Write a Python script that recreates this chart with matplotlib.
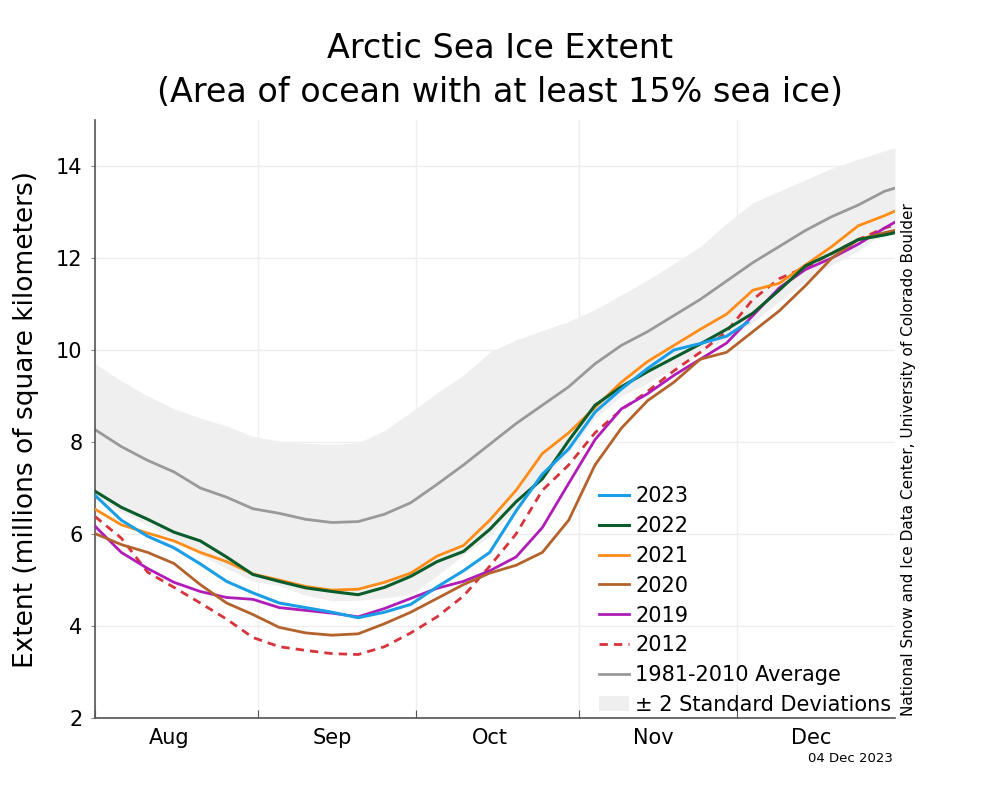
import numpy as np
import matplotlib
matplotlib.use("Agg")
import matplotlib.pyplot as plt

# days counted from Aug 1
days = [0, 5, 10, 15, 20, 25, 30, 35, 40, 45, 50, 55, 60, 65, 70, 75, 80, 85, 90,
        95, 100, 105, 110, 115, 120, 125, 130, 135, 140, 145, 150, 152]
days_2023 = [0, 5, 10, 15, 20, 25, 30, 35, 40, 45, 50, 55, 60, 65, 70, 75, 80, 85,
             90, 95, 100, 105, 110, 115, 120, 124]

avg_8110 = [8.27, 7.9, 7.6, 7.35, 7.0, 6.8, 6.55, 6.45, 6.32, 6.25, 6.27, 6.43, 6.68, 7.08,
            7.5, 7.95, 8.4, 8.8, 9.2, 9.7, 10.1, 10.4, 10.75, 11.1, 11.5, 11.9, 12.25,
            12.6, 12.9, 13.15, 13.45, 13.52]
sd_upper = [9.7, 9.33, 9.0, 8.72, 8.52, 8.35, 8.12, 8.02, 7.97, 7.95, 7.98, 8.25, 8.65, 9.07,
            9.45, 9.95, 10.22, 10.42, 10.62, 10.88, 11.2, 11.52, 11.88, 12.25, 12.75, 13.2,
            13.45, 13.7, 13.95, 14.15, 14.33, 14.4]
sd_lower = [6.84, 6.47, 6.2, 5.9, 5.55, 5.25, 4.98, 4.88, 4.67, 4.55, 4.56, 4.61, 4.69, 5.09,
            5.55, 5.95, 6.58, 7.18, 7.78, 8.52, 9.0, 9.28, 9.62, 9.95, 10.25, 10.6, 11.05,
            11.5, 11.85, 12.15, 12.57, 12.64]

ext_2023 = [6.84, 6.3, 5.95, 5.7, 5.35, 4.97, 4.72, 4.5, 4.4, 4.3, 4.18, 4.3, 4.47, 4.85,
            5.2, 5.6, 6.5, 7.3, 7.85, 8.65, 9.15, 9.6, 10.0, 10.14, 10.3, 10.6]
ext_2022 = [6.93, 6.58, 6.32, 6.04, 5.85, 5.5, 5.12, 4.97, 4.83, 4.75, 4.68, 4.84, 5.08, 5.4,
            5.62, 6.1, 6.7, 7.2, 8.03, 8.8, 9.2, 9.53, 9.83, 10.13, 10.45, 10.8, 11.3,
            11.83, 12.1, 12.4, 12.5, 12.55]
ext_2021 = [6.54, 6.2, 6.02, 5.85, 5.6, 5.4, 5.13, 5.0, 4.86, 4.78, 4.8, 4.95, 5.15, 5.52,
            5.75, 6.3, 6.95, 7.75, 8.2, 8.75, 9.3, 9.75, 10.1, 10.45, 10.78, 11.3, 11.45,
            11.85, 12.25, 12.7, 12.92, 13.02]
ext_2020 = [6.01, 5.77, 5.6, 5.36, 4.9, 4.5, 4.25, 3.97, 3.85, 3.8, 3.83, 4.05, 4.3, 4.6,
            4.9, 5.15, 5.32, 5.6, 6.3, 7.5, 8.3, 8.9, 9.3, 9.8, 9.95, 10.4, 10.85, 11.4,
            12.0, 12.4, 12.55, 12.6]
ext_2019 = [6.17, 5.6, 5.25, 4.95, 4.75, 4.62, 4.58, 4.4, 4.34, 4.28, 4.2, 4.38, 4.6, 4.82,
            4.97, 5.2, 5.5, 6.14, 7.1, 8.05, 8.72, 9.05, 9.45, 9.8, 10.15, 10.75, 11.35,
            11.75, 12.0, 12.3, 12.65, 12.78]
ext_2012 = [6.38, 5.91, 5.17, 4.84, 4.5, 4.15, 3.75, 3.55, 3.47, 3.4, 3.38, 3.55, 3.85, 4.2,
            4.65, 5.3, 6.0, 6.95, 7.5, 8.2, 8.7, 9.1, 9.55, 9.95, 10.4, 11.1, 11.55, 11.8,
            12.1, 12.4, 12.65, 12.72]

month_starts = [0, 31, 61, 92, 122]
month_mids = [14, 45, 75, 106, 136]   # the 15th of each month
month_names = ["Aug", "Sep", "Oct", "Nov", "Dec"]

fig = plt.figure(figsize=(10, 8), dpi=100)
ax = fig.add_axes([0.095, 0.1025, 0.8, 0.7475])

band = ax.fill_between(days, sd_lower, sd_upper, color="#efefef", lw=0, zorder=1,
                       label="± 2 Standard Deviations")
l_avg, = ax.plot(days, avg_8110, color="#999999", lw=2, zorder=2, label="1981-2010 Average")
l12, = ax.plot(days, ext_2012, color="#d7333b", lw=2, ls=(0, (3, 2.2)), zorder=3, label="2012")
l19, = ax.plot(days, ext_2019, color="#b01cb8", lw=2, zorder=3, label="2019")
l20, = ax.plot(days, ext_2020, color="#b4622b", lw=2, zorder=3, label="2020")
l21, = ax.plot(days, ext_2021, color="#ff8c17", lw=2, zorder=3, label="2021")
l22, = ax.plot(days, ext_2022, color="#0a5c2a", lw=2.2, zorder=3, label="2022")
l23, = ax.plot(days_2023, ext_2023, color="#1a9fe6", lw=2.2, zorder=4, label="2023")

ax.set_xlim(0, 152)
ax.set_ylim(2, 15)
ax.set_yticks([2, 4, 6, 8, 10, 12, 14])
ax.set_xticks(month_starts)
ax.set_xticklabels([])
ax.set_xticks(month_mids, minor=True)
ax.set_xticklabels(month_names, minor=True)
ax.tick_params(axis="x", which="major", direction="in", length=6, color="#555555")
ax.tick_params(axis="x", which="minor", length=0, labelsize=15, pad=7)
ax.tick_params(axis="y", direction="out", length=3, color="#888888", labelsize=15, pad=6)
ax.grid(True, which="major", color="#eeeeee", lw=1)
ax.set_axisbelow(True)
for s in ["top", "right"]:
    ax.spines[s].set_visible(False)
for s in ["left", "bottom"]:
    ax.spines[s].set_color("#555555")
    ax.spines[s].set_linewidth(1.2)

ax.set_ylabel("Extent (millions of square kilometers)", fontsize=19, labelpad=12)

ax.legend([l23, l22, l21, l20, l19, l12, l_avg, band],
          ["2023", "2022", "2021", "2020", "2019", "2012", "1981-2010 Average",
           "± 2 Standard Deviations"],
          loc="lower left", bbox_to_anchor=(0.626, 0.0), frameon=False, fontsize=15,
          borderpad=0, borderaxespad=0.15, handlelength=1.45, handletextpad=0.3,
          labelspacing=0.47)

fig.text(0.5, 0.94, "Arctic Sea Ice Extent", ha="center", va="center", fontsize=24)
fig.text(0.5, 0.885, "(Area of ocean with at least 15% sea ice)", ha="center", va="center",
         fontsize=24)
fig.text(0.909, 0.105, "National Snow and Ice Data Center, University of Colorado Boulder",
         rotation=90, ha="center", va="bottom", fontsize=11)
fig.text(0.893, 0.052, "04 Dec 2023", ha="right", va="center", fontsize=9.5)

fig.savefig("out.png", dpi=100)
